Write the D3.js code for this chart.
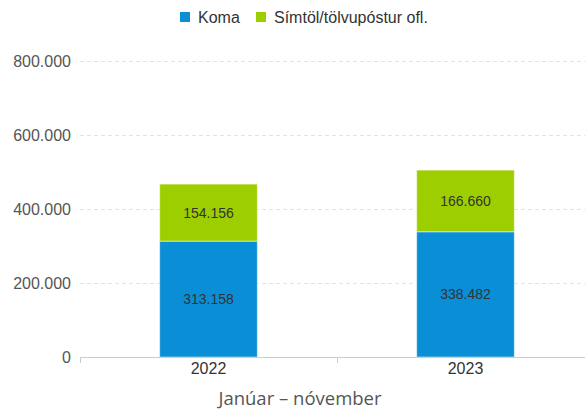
<!DOCTYPE html>
<html>
<head>
<meta charset="utf-8">
<script src="https://cdn.jsdelivr.net/npm/d3@7"></script>
<style>
  body { margin: 0; background: #fff; }
  svg { display: block; font-family: Arial, "Liberation Sans", sans-serif; }
</style>
</head>
<body>
<div id="chart"></div>
<script>
const years = ['2022', '2023']
const koma = [313158, 338482]
const simtol = [154156, 166660]
const seriesNames = ['Koma', 'Símtöl/tölvupóstur ofl.']
const yTicks = [0, 200000, 400000, 600000, 800000]
const xTitle = 'Janúar – nóvember'

const colors = ['#0a8fd6', '#9dcf00']

const width = 585
const height = 411
const margin = { top: 61, right: -9, bottom: 54, left: 80 }

const locale = d3.formatLocale({ decimal: ',', thousands: '.', grouping: [3], currency: ['', ''] })
const fmt = locale.format(',d')

const svg = d3.select('#chart').append('svg')
  .attr('width', width)
  .attr('height', height)

const plotW = width - margin.left - margin.right
const plotH = height - margin.top - margin.bottom

const plot = svg.append('g')
  .attr('transform', `translate(${margin.left}, ${margin.top})`)

// scales
const x = d3.scaleBand().domain(years).range([0, plotW]).paddingInner(0.62).paddingOuter(0.31)
const y = d3.scaleLinear().domain([0, 800000]).range([plotH, 0])

// grid
plot.append('g')
  .selectAll('line')
  .data(yTicks.filter(d => d > 0))
  .enter()
  .append('line')
  .attr('x1', 0)
  .attr('x2', width - margin.left)
  .attr('y1', d => Math.round(y(d)) + 0.5)
  .attr('y2', d => Math.round(y(d)) + 0.5)
  .attr('stroke', '#e3e3e3')
  .attr('stroke-dasharray', '4,3')

// y labels
const yAxis = plot.append('g')
  .call(d3.axisLeft(y).tickValues(yTicks).tickSize(0).tickPadding(9).tickFormat(d => d === 0 ? '0' : fmt(d)))
yAxis.select('.domain').remove()
yAxis.selectAll('text')
  .attr('fill', '#555')
  .attr('font-size', '16px')
  .attr('font-family', 'Arial, "Liberation Sans", sans-serif')

// stacked bars
const stackData = years.map((yr, i) => ({ year: yr, koma: koma[i], simtol: simtol[i] }))
const stack = d3.stack().keys(['koma', 'simtol'])(stackData)

const layers = plot.selectAll('g.layer')
  .data(stack)
  .enter()
  .append('g')
  .attr('class', 'layer')
  .attr('fill', (d, i) => colors[i])

layers.selectAll('rect')
  .data(d => d)
  .enter()
  .append('rect')
  .attr('x', d => x(d.data.year))
  .attr('y', d => y(d[1]))
  .attr('width', x.bandwidth())
  .attr('height', d => y(d[0]) - y(d[1]))
  .attr('stroke', '#ffffff')
  .attr('stroke-opacity', 0.5)
  .attr('stroke-width', 1)

layers.selectAll('text')
  .data(d => d)
  .enter()
  .append('text')
  .attr('x', d => x(d.data.year) + x.bandwidth() / 2)
  .attr('y', d => (y(d[0]) + y(d[1])) / 2 + 5)
  .attr('text-anchor', 'middle')
  .attr('fill', '#333')
  .attr('font-size', '14px')
  .text(d => fmt(d[1] - d[0]))

// x axis
const xAxis = plot.append('g')
  .attr('transform', `translate(0, ${plotH})`)
  .call(d3.axisBottom(x).tickSize(0).tickPadding(6))
xAxis.select('.domain').attr('stroke', '#ccc')
xAxis.selectAll('text')
  .attr('fill', '#333')
  .attr('font-size', '16px')
  .attr('font-family', 'Arial, "Liberation Sans", sans-serif')

// category boundary ticks
plot.append('g')
  .selectAll('line')
  .data([0, x.step()])
  .enter()
  .append('line')
  .attr('x1', d => Math.round(d) + 0.5)
  .attr('x2', d => Math.round(d) + 0.5)
  .attr('y1', plotH)
  .attr('y2', plotH + 6)
  .attr('stroke', '#ccc')

// x title
svg.append('text')
  .attr('x', 300)
  .attr('y', 405)
  .attr('text-anchor', 'middle')
  .attr('fill', '#555')
  .attr('font-size', '18.5px')
  .attr('font-family', '"Open Sans", "Noto Sans", sans-serif')
  .text(xTitle)

// legend
const legend = svg.append('g').attr('transform', 'translate(180, 12)')
const legendX = [0, 76]
seriesNames.forEach((name, i) => {
  const g = legend.append('g').attr('transform', `translate(${legendX[i]}, 0)`)
  g.append('rect').attr('width', 10).attr('height', 10).attr('fill', colors[i])
  g.append('text')
    .attr('x', 18)
    .attr('y', 11)
    .attr('fill', '#333')
    .attr('font-size', '16px')
    .text(name)
})
</script>
</body>
</html>
